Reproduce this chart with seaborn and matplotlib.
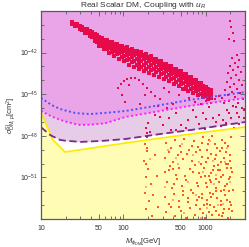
import numpy as np
import matplotlib
matplotlib.use('Agg')
import matplotlib.pyplot as plt
import matplotlib.ticker as mticker
import seaborn as sns

# ─── Data (masses in GeV, cross sections as log10(sigma / cm^2)) ───
# limit curves, read on a common mass grid
grid_mass = [10, 12.9, 14.0, 17.1, 19.6, 26.0, 30.0, 39.6, 60.0, 106, 282, 661, 3080]
blue_logsig = [-45.27, -45.71, -45.83, -46.07, -46.17, -46.35, -46.39, -46.43, -46.35, -46.21, -45.78, -45.40, -44.84]
magenta_logsig = [-46.20, -46.55, -46.65, -46.85, -46.97, -47.15, -47.22, -47.20, -47.10, -46.64, -46.21, -45.83, -45.27]
dashed_logsig = [-47.38, -47.94, -48.05, -48.30, -48.35, -48.41, -48.44, -48.41, -48.35, -48.23, -47.87, -47.58, -47.00]
floor_logsig = [-46.35, -47.82, -48.30, -48.82, -49.17, -49.06, -49.01, -48.90, -48.74, -48.52, -48.17, -47.87, -47.36]

# dense band of scan points (log10 mass per column, log10 sigma values in that column)
band_col_logm = [1.38, 1.41, 1.44, 1.47, 1.50, 1.53, 1.56, 1.59, 1.62, 1.65, 1.68, 1.71, 1.74, 1.77,
                 1.80, 1.83, 1.86, 1.89, 1.92, 1.95, 1.98, 2.01, 2.04, 2.07, 2.10, 2.13, 2.16, 2.19,
                 2.22, 2.25, 2.28, 2.31, 2.34, 2.37, 2.40, 2.43, 2.46, 2.49, 2.52, 2.55, 2.58, 2.61,
                 2.64, 2.67, 2.70, 2.73, 2.76, 2.79, 2.82, 2.85, 2.88, 2.91, 2.94, 2.97, 3.00, 3.03, 3.06]
band_col_logsig = [
    [-39.80, -39.92], [-39.91, -40.06], [-39.97, -40.10],
    [-40.08, -40.18, -40.33], [-40.15, -40.24, -40.38],
    [-40.27, -40.35, -40.45, -40.57], [-40.33, -40.41, -40.50, -40.62],
    [-40.45, -40.55, -40.67, -40.82], [-40.52, -40.62, -40.74, -40.88],
    [-40.66, -40.79, -40.96, -41.15], [-40.73, -40.86, -41.01, -41.20],
    [-40.90, -41.05, -41.26, -41.50], [-40.92, -41.07, -41.26, -41.49],
    [-41.06, -41.24, -41.48, -41.77], [-41.06, -41.23, -41.45, -41.71],
    [-41.20, -41.41, -41.68, -42.00], [-41.21, -41.40, -41.64, -41.93],
    [-41.36, -41.58, -41.87, -42.22], [-41.35, -41.56, -41.81, -42.12],
    [-41.50, -41.74, -42.06, -42.43], [-41.49, -41.71, -41.99, -42.32],
    [-41.65, -41.90, -42.24, -42.64], [-41.63, -41.87, -42.16, -42.52],
    [-41.80, -42.07, -42.43, -42.86], [-41.77, -42.02, -42.33, -42.70],
    [-41.92, -42.20, -42.59, -43.04], [-41.87, -42.13, -42.46, -42.86],
    [-42.04, -42.33, -42.74, -43.21], [-41.99, -42.26, -42.61, -43.02],
    [-42.17, -42.47, -42.88, -43.36], [-42.13, -42.40, -42.75, -43.16],
    [-42.30, -42.60, -43.01, -43.49], [-42.27, -42.54, -42.88, -43.29],
    [-42.47, -42.76, -43.15, -43.61], [-42.45, -42.71, -43.03, -43.42],
    [-42.64, -42.92, -43.29, -43.73], [-42.63, -42.88, -43.18, -43.55],
    [-42.82, -43.09, -43.45, -43.88], [-42.81, -43.05, -43.36, -43.73],
    [-43.00, -43.27, -43.63, -44.06], [-42.99, -43.23, -43.54, -43.91],
    [-43.18, -43.45, -43.81, -44.24], [-43.17, -43.41, -43.72, -44.09],
    [-43.36, -43.63, -43.99, -44.42], [-43.35, -43.59, -43.89, -44.26],
    [-43.56, -43.82, -44.17, -44.59], [-43.56, -43.80, -44.09, -44.45],
    [-43.76, -44.02, -44.37, -44.77], [-43.77, -44.00, -44.29, -44.63],
    [-43.97, -44.21, -44.55, -44.93], [-43.98, -44.20, -44.47, -44.79],
    [-44.17, -44.40, -44.71, -45.08], [-44.19, -44.39, -44.64, -44.95],
    [-44.39, -44.60, -44.88, -45.21], [-44.45, -44.62, -44.84, -45.10],
    [-44.63, -44.81, -45.04, -45.33], [-44.70, -44.85, -45.03, -45.25],
]

# scattered red points (plume at high mass, arc under the band, points in the lavender zone)
red_logm = [3.293, 3.305, 3.329, 3.280, 3.341, 3.378, 3.317, 3.402, 3.354, 3.293, 3.390, 3.329,
            3.427, 3.268, 3.366, 3.305, 3.402, 3.256, 3.341, 3.439, 3.293, 3.378, 3.232, 3.317,
            3.415, 3.268, 3.354, 3.195, 3.451, 3.280, 3.390, 3.159, 3.110, 3.220, 3.329, 3.439,
            3.256, 3.378, 3.305, 3.463, 3.244, 3.402, 3.341,
            1.939, 1.976, 2.012, 2.049, 2.098, 2.146, 2.195, 2.073, 2.244, 2.293, 2.341, 2.390,
            2.439, 1.988, 2.024, 2.268, 2.488, 2.549, 2.610, 2.671, 2.744, 2.793, 2.866, 2.939,
            3.000, 3.061,
            2.305, 2.329, 2.390, 2.549, 2.634, 2.695, 2.780, 2.841, 2.878, 2.963, 3.037, 3.085,
            3.159, 3.280, 3.366, 3.402, 3.463, 2.476, 2.573, 2.756, 2.915, 3.000, 3.122, 3.207,
            2.280, 2.293, 2.293, 2.451, 2.524, 2.598, 2.415, 2.207, 2.640, 2.990, 3.180]
red_logsig = [-39.72, -40.15, -40.59, -41.02, -41.16, -42.17, -42.39, -42.53, -42.75, -42.97, -43.04, -43.25,
              -43.40, -43.47, -43.61, -43.83, -43.97, -44.12, -44.26, -44.34, -44.48, -44.62, -44.70, -44.84,
              -44.91, -45.06, -45.20, -45.27, -45.34, -45.49, -45.63, -45.13, -45.34, -45.63, -45.85, -45.99,
              -46.14, -46.35, -46.71, -46.71, -47.07, -47.15, -47.44,
              -44.55, -44.26, -44.05, -43.90, -43.83, -43.83, -43.97, -44.34, -44.26, -44.55, -44.84, -45.13,
              -45.34, -45.06, -45.56, -45.06, -44.55, -44.84, -44.34, -45.06, -44.70, -45.27, -45.56, -45.71,
              -45.49, -45.63,
              -47.07, -47.72, -46.50, -46.71, -46.35, -47.22, -46.86, -46.14, -46.64, -46.35, -45.92, -46.71,
              -46.50, -46.35, -45.92, -46.64, -46.14, -47.22, -47.58, -47.44, -47.15, -46.79, -47.00, -46.86,
              -47.44, -47.80, -48.08, -46.64, -45.99, -45.71, -45.85, -45.71, -47.60, -47.50, -47.30]

# scan points below the neutrino floor
orange_logm = [2.26, 2.29, 2.25, 2.30, 2.27, 2.33, 2.26, 2.31, 2.28, 2.35, 2.38, 2.41, 2.36, 2.42, 2.29, 2.27,
               2.52, 2.58, 2.63, 2.69, 2.74, 2.80, 2.86, 2.91, 2.97, 3.03, 3.08, 3.14, 3.20, 3.27, 3.31,
               2.50, 2.55, 2.60, 2.66, 2.72, 2.77, 2.83, 2.88, 2.95, 3.00, 3.06, 3.11, 3.17, 3.22, 3.29,
               2.51, 2.57, 2.64, 2.68, 2.75, 2.81, 2.87, 2.92, 2.98, 3.04, 3.09, 3.15, 3.21, 3.26, 3.32,
               2.53, 2.59, 2.65, 2.71, 2.76, 2.82, 2.89, 2.94, 3.01, 3.05, 3.12, 3.16, 3.23, 3.28, 3.33,
               2.50, 2.56, 2.62, 2.67, 2.73, 2.79, 2.84, 2.90, 2.96, 3.02, 3.07, 3.13, 3.19, 3.24, 3.30,
               2.52, 2.58, 2.63, 2.70, 2.76, 2.81, 2.87, 2.93, 2.99, 3.04, 3.10, 3.16, 3.22, 3.27, 3.32,
               2.95, 3.12, 3.25, 3.18, 3.05, 2.98, 3.28, 3.20, 2.85, 2.78, 3.10, 2.91, 3.14, 3.30, 3.00,
               2.70, 2.62, 3.23, 3.08, 2.88, 3.26, 3.02, 2.55, 2.68, 3.17, 2.96, 3.31, 2.83, 3.06, 3.19,
               2.93, 3.03, 3.11, 3.19, 3.25, 3.31, 2.99, 3.07, 3.15, 3.22, 3.29, 2.92, 3.01, 3.09,
               3.18, 3.26, 2.97, 3.05, 3.13, 3.21, 3.28, 2.94, 3.04, 3.12, 3.20, 3.27, 2.60, 2.72]
orange_logsig = [-48.6, -49.1, -49.8, -50.4, -51.0, -51.5, -52.1, -52.7, -53.3, -53.8, -49.4, -50.9, -52.3, -53.1, -48.9, -50.0,
                 -48.5, -48.9, -48.3, -48.7, -48.2, -49.0, -48.4, -48.8, -48.1, -48.6, -48.0, -48.9, -48.3, -48.7, -48.1,
                 -49.6, -49.2, -49.9, -49.4, -49.7, -49.3, -49.8, -49.2, -49.5, -49.9, -49.3, -49.7, -49.1, -49.6, -49.4,
                 -50.6, -50.2, -50.8, -50.3, -50.9, -50.4, -50.1, -50.7, -50.3, -50.9, -50.5, -50.1, -50.8, -50.3, -50.6,
                 -51.3, -51.8, -51.1, -51.6, -51.2, -51.9, -51.4, -51.0, -51.7, -51.2, -51.8, -51.3, -51.6, -51.1, -51.9,
                 -52.4, -52.9, -52.2, -52.7, -52.3, -52.8, -52.1, -52.6, -52.2, -52.9, -52.4, -52.0, -52.7, -52.3, -52.8,
                 -53.5, -53.1, -53.8, -53.4, -53.9, -53.2, -53.7, -53.3, -53.9, -53.5, -53.1, -53.7, -53.3, -53.9, -53.4,
                 -48.5, -49.4, -50.0, -51.0, -52.1, -53.0, -52.0, -53.8, -50.6, -52.5, -50.2, -51.6, -52.5, -49.8, -51.4,
                 -49.2, -51.5, -48.5, -53.7, -53.0, -51.5, -49.0, -50.5, -53.1, -50.5, -52.5, -53.0, -48.7, -50.7, -52.0,
                 -49.0, -49.6, -48.6, -49.9, -49.2, -50.3, -50.9, -51.3, -50.5, -51.9, -51.0, -52.4, -52.6, -52.2,
                 -53.0, -52.6, -53.6, -53.0, -53.4, -53.6, -53.3, -50.0, -48.3, -51.1, -48.9, -50.0, -50.4, -52.0]

light_logm = [2.54, 2.66, 2.79, 2.92, 3.05, 3.13, 3.24, 2.60, 2.74, 2.88, 3.01, 3.15, 3.29,
              2.84, 2.97, 3.10, 2.71, 3.21, 2.27, 2.32, 2.50, 2.94, 3.09, 3.26, 2.64]
light_logsig = [-49.0, -50.0, -51.3, -49.9, -48.4, -50.8, -49.9, -52.6, -53.6, -52.3, -53.2, -53.0, -51.3,
                -49.4, -50.6, -51.5, -48.6, -52.9, -51.7, -49.7, -51.7, -53.95, -49.8, -48.9, -49.6]

x_major = [10, 50, 100, 500, 1000]
x_minor = [20, 30, 40, 60, 70, 80, 90, 200, 300, 400, 600, 700, 800, 900, 2000, 3000]
y_major_exp = [-51, -48, -45, -42]
y_minor_exp = [-54, -53, -52, -50, -49, -47, -46, -44, -43, -41, -40, -39]

# ─── Setup ───
sns.set_theme(style='ticks')
plt.rcParams['font.family'] = ['Liberation Sans', 'DejaVu Sans']
plt.rcParams['mathtext.fontset'] = 'custom'
plt.rcParams['mathtext.rm'] = 'Liberation Sans'
plt.rcParams['mathtext.it'] = 'Liberation Sans:italic'
plt.rcParams['mathtext.bf'] = 'Liberation Sans:bold'

PINK = '#EAA4E8'
LAVENDER = '#E6CCE6'
YELLOW = '#FFFDB5'
RED = '#E60A4B'
ORANGE = '#FF5A1E'
LIGHT = '#FFA878'
FRAME = '#5a5a5a'

fig = plt.figure(figsize=(2.49, 2.47), dpi=100)
ax = fig.add_axes([41 / 249, 1 - 219 / 247, 204 / 249, 208 / 247])
ax.set_xscale('log')
ax.set_yscale('log')

mass = np.array(grid_mass)
# excluded / allowed regions
ax.fill_between(mass, 10.0 ** np.array(magenta_logsig), 1e-36, color=PINK, lw=0, zorder=0)
ax.fill_between(mass, 10.0 ** np.array(dashed_logsig), 10.0 ** np.array(magenta_logsig),
                color=LAVENDER, lw=0, zorder=0)
ax.fill_between(mass, 1e-58, 10.0 ** np.array(floor_logsig), color=YELLOW, lw=0, zorder=0.5)

# scan points
band_m = [m for m, col in zip(band_col_logm, band_col_logsig) for _ in col]
band_s = [s for col in band_col_logsig for s in col]
pt = dict(marker='s', linewidth=0, legend=False, ax=ax)
sns.scatterplot(x=10.0 ** np.array(orange_logm), y=10.0 ** np.array(orange_logsig), color=ORANGE, s=4.5, zorder=2, **pt)
sns.scatterplot(x=10.0 ** np.array(light_logm), y=10.0 ** np.array(light_logsig), color=LIGHT, s=4.5, zorder=2, **pt)
sns.scatterplot(x=10.0 ** np.array(red_logm), y=10.0 ** np.array(red_logsig), color=RED, s=4.5, zorder=2, **pt)
sns.scatterplot(x=10.0 ** np.array(band_m), y=10.0 ** np.array(band_s), color=RED, s=7, zorder=2, **pt)

# limit curves
sns.lineplot(x=mass, y=10.0 ** np.array(floor_logsig), color='#FFE800', lw=1.2, ax=ax, zorder=3)
sns.lineplot(x=mass, y=10.0 ** np.array(dashed_logsig), color='#7A2A88', lw=1.3,
             linestyle=(0, (4, 2)), ax=ax, zorder=3)
sns.lineplot(x=mass, y=10.0 ** np.array(magenta_logsig), color='#FF1EFF', lw=1.4,
             linestyle=(0, (1, 1.3)), ax=ax, zorder=3)
sns.lineplot(x=mass, y=10.0 ** np.array(blue_logsig), color='#4F4FFF', lw=1.4,
             linestyle=(0, (1, 1.3)), ax=ax, zorder=3)

ax.set_xlim(10, 3000)
ax.set_ylim(1e-54, 1e-39)

# ticks
ax.xaxis.set_major_locator(mticker.FixedLocator(x_major))
ax.xaxis.set_major_formatter(mticker.FixedFormatter([str(v) for v in x_major]))
ax.xaxis.set_minor_locator(mticker.FixedLocator(x_minor))
ax.xaxis.set_minor_formatter(mticker.NullFormatter())
ax.yaxis.set_major_locator(mticker.FixedLocator([10.0 ** e for e in y_major_exp]))
ax.yaxis.set_major_formatter(mticker.FixedFormatter([f'$10^{{{e}}}$' for e in y_major_exp]))
ax.yaxis.set_minor_locator(mticker.FixedLocator([10.0 ** e for e in y_minor_exp]))
ax.yaxis.set_minor_formatter(mticker.NullFormatter())
ax.tick_params(which='both', direction='in', top=True, right=True, color=FRAME,
               labelsize=5, labelcolor='#333333', width=0.6)
ax.tick_params(which='major', length=3.5)
ax.tick_params(which='minor', length=2)
ax.tick_params(axis='x', pad=4)
ax.tick_params(axis='y', pad=2)
for sp in ax.spines.values():
    sp.set_color(FRAME)
    sp.set_linewidth(0.9)
    sp.set_zorder(5)

ax.set_title('Real Scalar DM, Coupling with $u_R$', fontsize=6, pad=1.5, color='#333333')
ax.set_xlabel(r'$M_{\phi_{\rm DM}}$[GeV]', fontsize=5.5, labelpad=3.5, color='#333333')
ax.set_ylabel(r'$\sigma^{\rm SI}_{{\rm DM},p}$[cm$^2$]', fontsize=5.5, labelpad=1.5, color='#333333')

fig.savefig('out.png', dpi=100)
